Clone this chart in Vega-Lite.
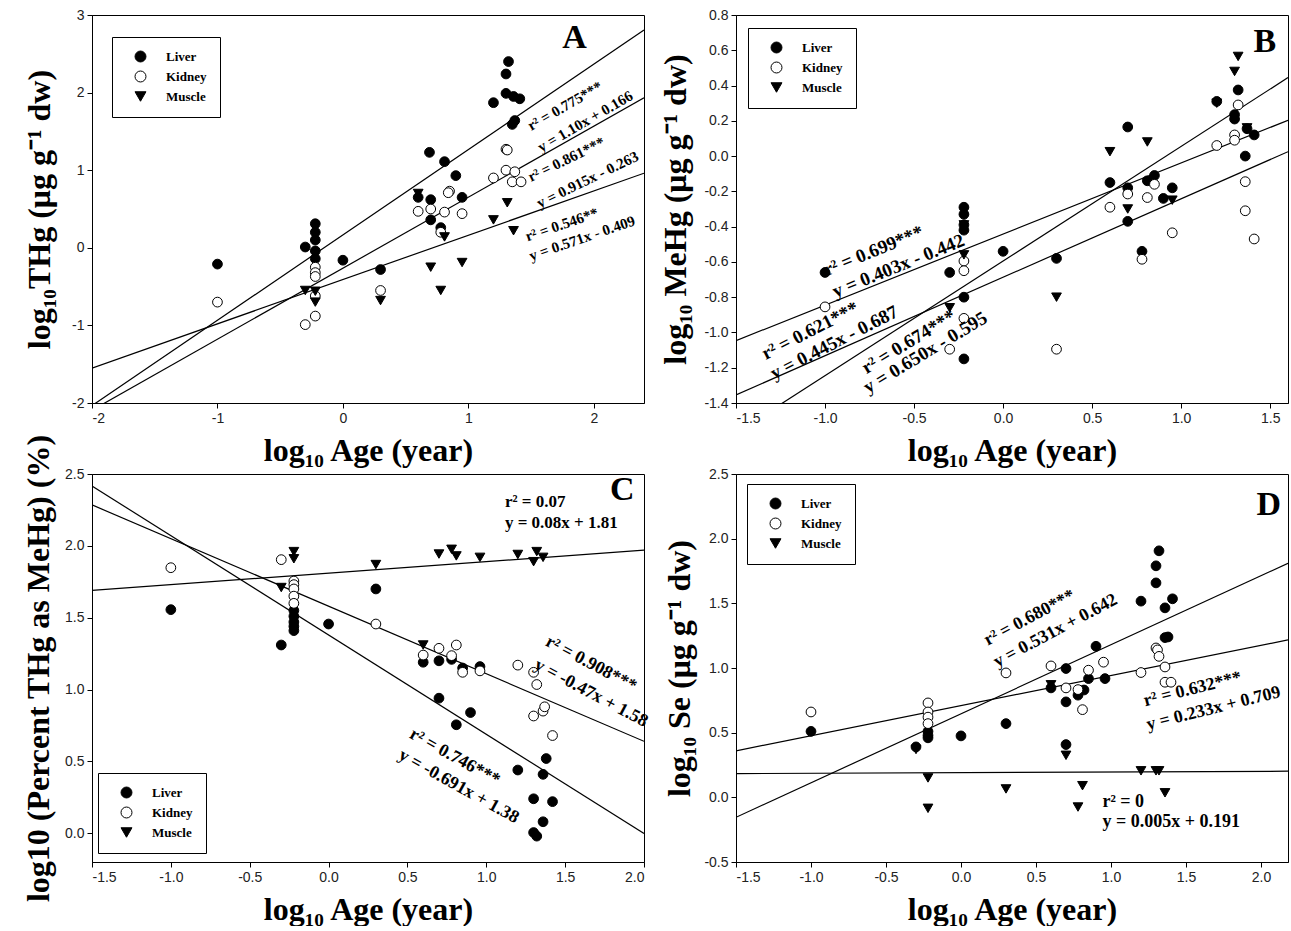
{
  "$schema": "https://vega.github.io/schema/vega-lite/v6.json",
  "usermeta": {"embedOptions": {"actions": false}},
  "background": "white",
  "padding": {"left": 22, "top": 7, "right": 0, "bottom": 0},
  "columns": 2,
  "bounds": "flush",
  "spacing": {"row": 71, "column": 92},
  "config": {
    "font": "Liberation Serif",
    "view": {"stroke": "black", "strokeWidth": 1},
    "axis": {"grid": false, "domainColor": "black", "tickColor": "black", "tickSize": 5, "labelFont": "Liberation Sans", "labelFontSize": 14, "labelColor": "#222222", "labelPadding": 3, "titleFont": "Liberation Serif", "titleFontSize": 32, "titleFontWeight": "bold", "titleColor": "black"},
    "legend": {"fillColor": "white", "strokeColor": "black", "padding": 13, "symbolOffset": 9, "labelFont": "Liberation Serif", "labelFontWeight": "bold", "labelFontSize": 13, "labelColor": "black", "labelOffset": 19, "rowPadding": 5, "symbolSize": 120, "symbolStrokeColor": "black", "symbolStrokeWidth": 1}
  },
  "datasets": {
    "ptsA": [
      {"t":"Liver","x":-1.0,"y":-0.21},{"t":"Liver","x":-0.30,"y":0.01},{"t":"Liver","x":-0.22,"y":0.31},{"t":"Liver","x":-0.22,"y":0.20},{"t":"Liver","x":-0.22,"y":0.10},{"t":"Liver","x":-0.22,"y":-0.04},{"t":"Liver","x":-0.22,"y":-0.14},{"t":"Liver","x":0.0,"y":-0.16},{"t":"Liver","x":0.30,"y":-0.28},{"t":"Liver","x":0.60,"y":0.65},{"t":"Liver","x":0.69,"y":1.23},{"t":"Liver","x":0.70,"y":0.62},{"t":"Liver","x":0.70,"y":0.36},{"t":"Liver","x":0.78,"y":0.26},{"t":"Liver","x":0.81,"y":1.11},{"t":"Liver","x":0.90,"y":0.93},{"t":"Liver","x":0.95,"y":0.65},{"t":"Liver","x":1.20,"y":1.87},{"t":"Liver","x":1.30,"y":2.24},{"t":"Liver","x":1.32,"y":2.40},{"t":"Liver","x":1.30,"y":1.99},{"t":"Liver","x":1.36,"y":1.95},{"t":"Liver","x":1.41,"y":1.92},{"t":"Liver","x":1.37,"y":1.64},{"t":"Liver","x":1.35,"y":1.59},
      {"t":"Kidney","x":-1.0,"y":-0.70},{"t":"Kidney","x":-0.30,"y":-0.99},{"t":"Kidney","x":-0.22,"y":-0.88},{"t":"Kidney","x":-0.22,"y":-0.25},{"t":"Kidney","x":-0.22,"y":-0.32},{"t":"Kidney","x":-0.22,"y":-0.37},{"t":"Kidney","x":-0.22,"y":-0.62},{"t":"Kidney","x":0.30,"y":-0.55},{"t":"Kidney","x":0.60,"y":0.47},{"t":"Kidney","x":0.70,"y":0.50},{"t":"Kidney","x":0.78,"y":0.20},{"t":"Kidney","x":0.81,"y":0.46},{"t":"Kidney","x":0.85,"y":0.73},{"t":"Kidney","x":0.84,"y":0.71},{"t":"Kidney","x":0.95,"y":0.44},{"t":"Kidney","x":1.20,"y":0.90},{"t":"Kidney","x":1.30,"y":1.27},{"t":"Kidney","x":1.31,"y":1.26},{"t":"Kidney","x":1.30,"y":1.00},{"t":"Kidney","x":1.37,"y":0.98},{"t":"Kidney","x":1.35,"y":0.85},{"t":"Kidney","x":1.42,"y":0.85},
      {"t":"Muscle","x":-0.30,"y":-0.55},{"t":"Muscle","x":-0.22,"y":-0.56},{"t":"Muscle","x":-0.22,"y":-0.70},{"t":"Muscle","x":0.30,"y":-0.68},{"t":"Muscle","x":0.60,"y":0.70},{"t":"Muscle","x":0.70,"y":-0.25},{"t":"Muscle","x":0.78,"y":-0.55},{"t":"Muscle","x":0.81,"y":0.14},{"t":"Muscle","x":0.95,"y":-0.19},{"t":"Muscle","x":1.20,"y":0.36},{"t":"Muscle","x":1.31,"y":0.58},{"t":"Muscle","x":1.36,"y":0.22}
    ],
    "ptsB": [
      {"t":"Liver","x":-1.0,"y":-0.66},{"t":"Liver","x":-0.30,"y":-0.66},{"t":"Liver","x":-0.22,"y":-0.29},{"t":"Liver","x":-0.22,"y":-0.33},{"t":"Liver","x":-0.22,"y":-0.39},{"t":"Liver","x":-0.22,"y":-0.42},{"t":"Liver","x":-0.22,"y":-0.80},{"t":"Liver","x":-0.22,"y":-1.15},{"t":"Liver","x":0.0,"y":-0.54},{"t":"Liver","x":0.30,"y":-0.58},{"t":"Liver","x":0.60,"y":-0.15},{"t":"Liver","x":0.70,"y":0.165},{"t":"Liver","x":0.70,"y":-0.18},{"t":"Liver","x":0.70,"y":-0.37},{"t":"Liver","x":0.78,"y":-0.54},{"t":"Liver","x":0.81,"y":-0.14},{"t":"Liver","x":0.85,"y":-0.11},{"t":"Liver","x":0.90,"y":-0.24},{"t":"Liver","x":0.95,"y":-0.18},{"t":"Liver","x":1.20,"y":0.31},{"t":"Liver","x":1.30,"y":0.21},{"t":"Liver","x":1.30,"y":0.235},{"t":"Liver","x":1.32,"y":0.375},{"t":"Liver","x":1.36,"y":0.0},{"t":"Liver","x":1.37,"y":0.155},{"t":"Liver","x":1.41,"y":0.12},
      {"t":"Kidney","x":-1.0,"y":-0.855},{"t":"Kidney","x":-0.30,"y":-1.095},{"t":"Kidney","x":-0.22,"y":-0.595},{"t":"Kidney","x":-0.22,"y":-0.65},{"t":"Kidney","x":-0.22,"y":-0.92},{"t":"Kidney","x":0.30,"y":-1.095},{"t":"Kidney","x":0.60,"y":-0.29},{"t":"Kidney","x":0.70,"y":-0.215},{"t":"Kidney","x":0.78,"y":-0.585},{"t":"Kidney","x":0.81,"y":-0.235},{"t":"Kidney","x":0.85,"y":-0.16},{"t":"Kidney","x":0.95,"y":-0.435},{"t":"Kidney","x":1.20,"y":0.06},{"t":"Kidney","x":1.30,"y":0.12},{"t":"Kidney","x":1.30,"y":0.09},{"t":"Kidney","x":1.32,"y":0.29},{"t":"Kidney","x":1.36,"y":-0.145},{"t":"Kidney","x":1.36,"y":-0.31},{"t":"Kidney","x":1.41,"y":-0.47},
      {"t":"Muscle","x":-0.30,"y":-0.86},{"t":"Muscle","x":-0.22,"y":-0.39},{"t":"Muscle","x":-0.22,"y":-0.56},{"t":"Muscle","x":0.30,"y":-0.80},{"t":"Muscle","x":0.60,"y":0.025},{"t":"Muscle","x":0.70,"y":-0.30},{"t":"Muscle","x":0.81,"y":0.08},{"t":"Muscle","x":0.95,"y":-0.25},{"t":"Muscle","x":1.20,"y":0.30},{"t":"Muscle","x":1.30,"y":0.48},{"t":"Muscle","x":1.32,"y":0.565},{"t":"Muscle","x":1.37,"y":0.16}
    ],
    "ptsC": [
      {"t":"Liver","x":-1.0,"y":1.556},{"t":"Liver","x":-0.30,"y":1.31},{"t":"Liver","x":-0.22,"y":1.55},{"t":"Liver","x":-0.22,"y":1.51},{"t":"Liver","x":-0.22,"y":1.47},{"t":"Liver","x":-0.22,"y":1.44},{"t":"Liver","x":-0.22,"y":1.41},{"t":"Liver","x":0.0,"y":1.456},{"t":"Liver","x":0.30,"y":1.70},{"t":"Liver","x":0.60,"y":1.19},{"t":"Liver","x":0.70,"y":1.20},{"t":"Liver","x":0.70,"y":0.94},{"t":"Liver","x":0.78,"y":1.21},{"t":"Liver","x":0.81,"y":0.755},{"t":"Liver","x":0.85,"y":1.15},{"t":"Liver","x":0.90,"y":0.84},{"t":"Liver","x":0.96,"y":1.16},{"t":"Liver","x":1.20,"y":0.44},{"t":"Liver","x":1.30,"y":0.24},{"t":"Liver","x":1.30,"y":0.005},{"t":"Liver","x":1.32,"y":-0.02},{"t":"Liver","x":1.36,"y":0.41},{"t":"Liver","x":1.36,"y":0.08},{"t":"Liver","x":1.38,"y":0.52},{"t":"Liver","x":1.42,"y":0.22},
      {"t":"Kidney","x":-1.0,"y":1.848},{"t":"Kidney","x":-0.30,"y":1.904},{"t":"Kidney","x":-0.22,"y":1.755},{"t":"Kidney","x":-0.22,"y":1.73},{"t":"Kidney","x":-0.22,"y":1.70},{"t":"Kidney","x":-0.22,"y":1.65},{"t":"Kidney","x":-0.22,"y":1.60},{"t":"Kidney","x":0.30,"y":1.456},{"t":"Kidney","x":0.60,"y":1.24},{"t":"Kidney","x":0.70,"y":1.287},{"t":"Kidney","x":0.78,"y":1.236},{"t":"Kidney","x":0.81,"y":1.31},{"t":"Kidney","x":0.85,"y":1.12},{"t":"Kidney","x":0.96,"y":1.13},{"t":"Kidney","x":1.20,"y":1.17},{"t":"Kidney","x":1.30,"y":1.12},{"t":"Kidney","x":1.30,"y":0.816},{"t":"Kidney","x":1.32,"y":1.035},{"t":"Kidney","x":1.36,"y":0.85},{"t":"Kidney","x":1.37,"y":0.88},{"t":"Kidney","x":1.42,"y":0.68},
      {"t":"Muscle","x":-0.30,"y":1.71},{"t":"Muscle","x":-0.22,"y":1.96},{"t":"Muscle","x":-0.22,"y":1.91},{"t":"Muscle","x":0.30,"y":1.87},{"t":"Muscle","x":0.60,"y":1.31},{"t":"Muscle","x":0.70,"y":1.943},{"t":"Muscle","x":0.78,"y":1.976},{"t":"Muscle","x":0.81,"y":1.93},{"t":"Muscle","x":0.96,"y":1.92},{"t":"Muscle","x":1.20,"y":1.94},{"t":"Muscle","x":1.30,"y":1.89},{"t":"Muscle","x":1.32,"y":1.96},{"t":"Muscle","x":1.36,"y":1.92}
    ],
    "ptsD": [
      {"t":"Liver","x":-1.0,"y":0.51},{"t":"Liver","x":-0.30,"y":0.39},{"t":"Liver","x":-0.22,"y":0.51},{"t":"Liver","x":-0.22,"y":0.48},{"t":"Liver","x":-0.22,"y":0.46},{"t":"Liver","x":0.0,"y":0.475},{"t":"Liver","x":0.30,"y":0.57},{"t":"Liver","x":0.60,"y":0.846},{"t":"Liver","x":0.70,"y":0.996},{"t":"Liver","x":0.70,"y":0.738},{"t":"Liver","x":0.70,"y":0.408},{"t":"Liver","x":0.78,"y":0.79},{"t":"Liver","x":0.82,"y":0.83},{"t":"Liver","x":0.85,"y":0.918},{"t":"Liver","x":0.90,"y":1.168},{"t":"Liver","x":0.96,"y":0.918},{"t":"Liver","x":1.20,"y":1.517},{"t":"Liver","x":1.30,"y":1.79},{"t":"Liver","x":1.30,"y":1.658},{"t":"Liver","x":1.32,"y":1.906},{"t":"Liver","x":1.36,"y":1.465},{"t":"Liver","x":1.36,"y":1.235},{"t":"Liver","x":1.38,"y":1.24},{"t":"Liver","x":1.41,"y":1.535},
      {"t":"Kidney","x":-1.0,"y":0.66},{"t":"Kidney","x":-0.22,"y":0.73},{"t":"Kidney","x":-0.22,"y":0.66},{"t":"Kidney","x":-0.22,"y":0.62},{"t":"Kidney","x":-0.22,"y":0.57},{"t":"Kidney","x":0.30,"y":0.962},{"t":"Kidney","x":0.60,"y":1.016},{"t":"Kidney","x":0.70,"y":0.846},{"t":"Kidney","x":0.78,"y":0.833},{"t":"Kidney","x":0.81,"y":0.678},{"t":"Kidney","x":0.85,"y":0.983},{"t":"Kidney","x":0.95,"y":1.045},{"t":"Kidney","x":1.20,"y":0.965},{"t":"Kidney","x":1.30,"y":1.155},{"t":"Kidney","x":1.31,"y":1.14},{"t":"Kidney","x":1.32,"y":1.09},{"t":"Kidney","x":1.36,"y":1.008},{"t":"Kidney","x":1.36,"y":0.89},{"t":"Kidney","x":1.40,"y":0.89},
      {"t":"Muscle","x":-0.30,"y":0.37},{"t":"Muscle","x":-0.22,"y":0.15},{"t":"Muscle","x":-0.22,"y":-0.085},{"t":"Muscle","x":0.30,"y":0.065},{"t":"Muscle","x":0.60,"y":0.87},{"t":"Muscle","x":0.70,"y":0.325},{"t":"Muscle","x":0.78,"y":-0.075},{"t":"Muscle","x":0.81,"y":0.09},{"t":"Muscle","x":1.20,"y":0.205},{"t":"Muscle","x":1.30,"y":0.205},{"t":"Muscle","x":1.32,"y":0.205},{"t":"Muscle","x":1.36,"y":0.035}
    ],
    "linesA": [
      {"line":"liver","x":-2.0,"y":-2.034},{"line":"liver","x":2.4,"y":2.806},
      {"line":"kidney","x":-2.0,"y":-2.093},{"line":"kidney","x":2.4,"y":1.933},
      {"line":"muscle","x":-2.0,"y":-1.551},{"line":"muscle","x":2.4,"y":0.961}
    ],
    "linesB": [
      {"line":"l1","x":-1.5,"y":-1.0465},{"line":"l1","x":1.6,"y":0.2028},
      {"line":"l2","x":-1.5,"y":-1.3545},{"line":"l2","x":1.6,"y":0.025},
      {"line":"l3","x":-1.5,"y":-1.57},{"line":"l3","x":1.6,"y":0.445}
    ],
    "linesC": [
      {"line":"muscle","x":-1.5,"y":1.69},{"line":"muscle","x":2.0,"y":1.97},
      {"line":"kidney","x":-1.5,"y":2.285},{"line":"kidney","x":2.0,"y":0.64},
      {"line":"liver","x":-1.5,"y":2.4165},{"line":"liver","x":2.0,"y":-0.002}
    ],
    "linesD": [
      {"line":"liver","x":-1.5,"y":-0.1545},{"line":"liver","x":2.18,"y":1.8096},
      {"line":"kidney","x":-1.5,"y":0.3595},{"line":"kidney","x":2.18,"y":1.2169},
      {"line":"muscle","x":-1.5,"y":0.1835},{"line":"muscle","x":2.18,"y":0.2019}
    ],
    "annA1": [{"x":1.77,"y":1.83,"label":"r² = 0.775***"},{"x":1.93,"y":1.63,"label":"y = 1.10x + 0.166"}],
    "annA2": [{"x":1.78,"y":1.14,"label":"r² = 0.861***"},{"x":1.95,"y":0.88,"label":"y = 0.915x - 0.263"}],
    "annA3": [{"x":1.745,"y":0.30,"label":"r² = 0.546**"},{"x":1.906,"y":0.125,"label":"y = 0.571x - 0.409"}],
    "letA": [{"x":1.846,"y":2.708,"label":"A"}],
    "annB1": [{"x":-0.728,"y":-0.537,"label":"r² = 0.699***"},{"x":-0.588,"y":-0.622,"label":"y = 0.403x - 0.442"}],
    "annB2": [{"x":-1.084,"y":-0.99,"label":"r² = 0.621***"},{"x":-0.949,"y":-1.057,"label":"y = 0.445x - 0.687"}],
    "annB3": [{"x":-0.53,"y":-1.053,"label":"r² = 0.674***"},{"x":-0.437,"y":-1.113,"label":"y = 0.650x - 0.595"}],
    "letB": [{"x":1.47,"y":0.645,"label":"B"}],
    "annC0": [{"x":1.118,"y":2.307,"label":"r² = 0.07"},{"x":1.118,"y":2.157,"label":"y = 0.08x + 1.81"}],
    "annC1": [{"x":1.664,"y":1.178,"label":"r² = 0.908***"},{"x":1.664,"y":0.974,"label":"y = -0.47x + 1.58"}],
    "annC2": [{"x":0.80,"y":0.529,"label":"r² = 0.746***"},{"x":0.825,"y":0.325,"label":"y = -0.691x + 1.38"}],
    "letC": [{"x":1.863,"y":2.389,"label":"C"}],
    "annD1": [{"x":0.458,"y":1.388,"label":"r² = 0.680***"},{"x":0.63,"y":1.287,"label":"y = 0.531x + 0.642"}],
    "annD2": [{"x":1.545,"y":0.836,"label":"r² = 0.632***"},{"x":1.683,"y":0.686,"label":"y = 0.233x + 0.709"}],
    "annD0": [{"x":0.943,"y":-0.036,"label":"r² = 0"},{"x":0.943,"y":-0.19,"label":"y = 0.005x + 0.191"}],
    "letD": [{"x":2.052,"y":2.26,"label":"D"}]
  },
  "resolve": {"scale": {"shape": "independent", "fill": "independent", "stroke": "independent"}, "legend": {"shape": "independent", "fill": "independent", "stroke": "independent"}},
  "concat": [
    {
      "width": 552, "height": 388,
      "encoding": {
        "x": {"field": "x", "type": "quantitative", "scale": {"domain": [-2, 2.4], "nice": false, "zero": false}, "axis": {"values": [-2, -1, 0, 1, 2], "format": "d", "labelExpr": "replace(datum.label, '−', '-')", "title": "log₁₀ Age (year)", "titlePadding": 10}},
        "y": {"field": "y", "type": "quantitative", "scale": {"domain": [-2, 3], "nice": false, "zero": false}, "axis": {"values": [-2, -1, 0, 1, 2, 3], "format": "d", "labelExpr": "replace(datum.label, '−', '-')", "title": "log₁₀THg (μg g⁻¹ dw)", "titlePadding": 15}}
      },
      "layer": [
        {"data": {"name": "linesA"}, "mark": {"type": "line", "clip": true, "color": "black", "strokeWidth": 1.2}, "encoding": {"detail": {"field": "line"}}},
        {"data": {"name": "ptsA"}, "mark": {"type": "point", "filled": true, "strokeWidth": 1, "size": 95, "opacity": 1},
         "encoding": {
           "shape": {"field": "t", "type": "nominal", "sort": null, "scale": {"domain": ["Liver", "Kidney", "Muscle"], "range": ["circle", "circle", "triangle-down"]}, "legend": {"title": null, "orient": "none", "legendX": 20, "legendY": 22}},
           "fill": {"field": "t", "type": "nominal", "sort": null, "scale": {"domain": ["Liver", "Kidney", "Muscle"], "range": ["black", "white", "black"]}, "legend": {"title": null, "orient": "none", "legendX": 20, "legendY": 22}},
           "stroke": {"field": "t", "type": "nominal", "sort": null, "scale": {"domain": ["Liver", "Kidney", "Muscle"], "range": ["black", "black", "black"]}, "legend": {"title": null, "orient": "none", "legendX": 20, "legendY": 22}}
         }},
        {"data": {"name": "annA1"}, "mark": {"type": "text", "angle": -30, "font": "Liberation Serif", "fontWeight": "bold", "fontSize": 15}, "encoding": {"text": {"field": "label"}}},
        {"data": {"name": "annA2"}, "mark": {"type": "text", "angle": -26, "font": "Liberation Serif", "fontWeight": "bold", "fontSize": 15}, "encoding": {"text": {"field": "label"}}},
        {"data": {"name": "annA3"}, "mark": {"type": "text", "angle": -19, "font": "Liberation Serif", "fontWeight": "bold", "fontSize": 15}, "encoding": {"text": {"field": "label"}}},
        {"data": {"name": "letA"}, "mark": {"type": "text", "font": "Liberation Serif", "fontWeight": "bold", "fontSize": 34}, "encoding": {"text": {"field": "label"}}}
      ]
    },
    {
      "width": 552, "height": 388,
      "encoding": {
        "x": {"field": "x", "type": "quantitative", "scale": {"domain": [-1.5, 1.6], "nice": false, "zero": false}, "axis": {"values": [-1.5, -1.0, -0.5, 0.0, 0.5, 1.0, 1.5], "format": ".1f", "labelExpr": "replace(datum.label, '−', '-')", "title": "log₁₀ Age (year)", "titlePadding": 10}},
        "y": {"field": "y", "type": "quantitative", "scale": {"domain": [-1.4, 0.8], "nice": false, "zero": false}, "axis": {"values": [-1.4, -1.2, -1.0, -0.8, -0.6, -0.4, -0.2, 0.0, 0.2, 0.4, 0.6, 0.8], "format": ".1f", "labelExpr": "replace(datum.label, '−', '-')", "title": "log₁₀ MeHg (μg g⁻¹ dw)", "titlePadding": 11}}
      },
      "layer": [
        {"data": {"name": "linesB"}, "mark": {"type": "line", "clip": true, "color": "black", "strokeWidth": 1.2}, "encoding": {"detail": {"field": "line"}}},
        {"data": {"name": "ptsB"}, "mark": {"type": "point", "filled": true, "strokeWidth": 1, "size": 95, "opacity": 1},
         "encoding": {
           "shape": {"field": "t", "type": "nominal", "sort": null, "scale": {"domain": ["Liver", "Kidney", "Muscle"], "range": ["circle", "circle", "triangle-down"]}, "legend": {"title": null, "orient": "none", "legendX": 12, "legendY": 13}},
           "fill": {"field": "t", "type": "nominal", "sort": null, "scale": {"domain": ["Liver", "Kidney", "Muscle"], "range": ["black", "white", "black"]}, "legend": {"title": null, "orient": "none", "legendX": 12, "legendY": 13}},
           "stroke": {"field": "t", "type": "nominal", "sort": null, "scale": {"domain": ["Liver", "Kidney", "Muscle"], "range": ["black", "black", "black"]}, "legend": {"title": null, "orient": "none", "legendX": 12, "legendY": 13}}
         }},
        {"data": {"name": "annB1"}, "mark": {"type": "text", "angle": -22, "font": "Liberation Serif", "fontWeight": "bold", "fontSize": 19}, "encoding": {"text": {"field": "label"}}},
        {"data": {"name": "annB2"}, "mark": {"type": "text", "angle": -27, "font": "Liberation Serif", "fontWeight": "bold", "fontSize": 19}, "encoding": {"text": {"field": "label"}}},
        {"data": {"name": "annB3"}, "mark": {"type": "text", "angle": -31, "font": "Liberation Serif", "fontWeight": "bold", "fontSize": 19}, "encoding": {"text": {"field": "label"}}},
        {"data": {"name": "letB"}, "mark": {"type": "text", "font": "Liberation Serif", "fontWeight": "bold", "fontSize": 34}, "encoding": {"text": {"field": "label"}}}
      ]
    },
    {
      "width": 552, "height": 388,
      "encoding": {
        "x": {"field": "x", "type": "quantitative", "scale": {"domain": [-1.5, 2.0], "nice": false, "zero": false}, "axis": {"values": [-1.5, -1.0, -0.5, 0.0, 0.5, 1.0, 1.5, 2.0], "format": ".1f", "labelExpr": "replace(datum.label, '−', '-')", "title": "log₁₀ Age (year)", "titlePadding": 10}},
        "y": {"field": "y", "type": "quantitative", "scale": {"domain": [-0.2, 2.5], "nice": false, "zero": false}, "axis": {"values": [0.0, 0.5, 1.0, 1.5, 2.0, 2.5], "format": ".1f", "labelExpr": "replace(datum.label, '−', '-')", "title": "log10 (Percent THg as MeHg) (%)", "titlePadding": 9}}
      },
      "layer": [
        {"data": {"name": "linesC"}, "mark": {"type": "line", "clip": true, "color": "black", "strokeWidth": 1.2}, "encoding": {"detail": {"field": "line"}}},
        {"data": {"name": "ptsC"}, "mark": {"type": "point", "filled": true, "strokeWidth": 1, "size": 95, "opacity": 1},
         "encoding": {
           "shape": {"field": "t", "type": "nominal", "sort": null, "scale": {"domain": ["Liver", "Kidney", "Muscle"], "range": ["circle", "circle", "triangle-down"]}, "legend": {"title": null, "orient": "none", "legendX": 6, "legendY": 299}},
           "fill": {"field": "t", "type": "nominal", "sort": null, "scale": {"domain": ["Liver", "Kidney", "Muscle"], "range": ["black", "white", "black"]}, "legend": {"title": null, "orient": "none", "legendX": 6, "legendY": 299}},
           "stroke": {"field": "t", "type": "nominal", "sort": null, "scale": {"domain": ["Liver", "Kidney", "Muscle"], "range": ["black", "black", "black"]}, "legend": {"title": null, "orient": "none", "legendX": 6, "legendY": 299}}
         }},
        {"data": {"name": "annC0"}, "mark": {"type": "text", "align": "left", "font": "Liberation Serif", "fontWeight": "bold", "fontSize": 17}, "encoding": {"text": {"field": "label"}}},
        {"data": {"name": "annC1"}, "mark": {"type": "text", "angle": 28, "font": "Liberation Serif", "fontWeight": "bold", "fontSize": 18}, "encoding": {"text": {"field": "label"}}},
        {"data": {"name": "annC2"}, "mark": {"type": "text", "angle": 29, "font": "Liberation Serif", "fontWeight": "bold", "fontSize": 18}, "encoding": {"text": {"field": "label"}}},
        {"data": {"name": "letC"}, "mark": {"type": "text", "font": "Liberation Serif", "fontWeight": "bold", "fontSize": 34}, "encoding": {"text": {"field": "label"}}}
      ]
    },
    {
      "width": 552, "height": 388,
      "encoding": {
        "x": {"field": "x", "type": "quantitative", "scale": {"domain": [-1.5, 2.18], "nice": false, "zero": false}, "axis": {"values": [-1.5, -1.0, -0.5, 0.0, 0.5, 1.0, 1.5, 2.0], "format": ".1f", "labelExpr": "replace(datum.label, '−', '-')", "title": "log₁₀ Age (year)", "titlePadding": 10}},
        "y": {"field": "y", "type": "quantitative", "scale": {"domain": [-0.5, 2.5], "nice": false, "zero": false}, "axis": {"values": [-0.5, 0.0, 0.5, 1.0, 1.5, 2.0, 2.5], "format": ".1f", "labelExpr": "replace(datum.label, '−', '-')", "title": "log₁₀ Se (μg g⁻¹ dw)", "titlePadding": 7}}
      },
      "layer": [
        {"data": {"name": "linesD"}, "mark": {"type": "line", "clip": true, "color": "black", "strokeWidth": 1.2}, "encoding": {"detail": {"field": "line"}}},
        {"data": {"name": "ptsD"}, "mark": {"type": "point", "filled": true, "strokeWidth": 1, "size": 95, "opacity": 1},
         "encoding": {
           "shape": {"field": "t", "type": "nominal", "sort": null, "scale": {"domain": ["Liver", "Kidney", "Muscle"], "range": ["circle", "circle", "triangle-down"]}, "legend": {"title": null, "orient": "none", "legendX": 11, "legendY": 10}},
           "fill": {"field": "t", "type": "nominal", "sort": null, "scale": {"domain": ["Liver", "Kidney", "Muscle"], "range": ["black", "white", "black"]}, "legend": {"title": null, "orient": "none", "legendX": 11, "legendY": 10}},
           "stroke": {"field": "t", "type": "nominal", "sort": null, "scale": {"domain": ["Liver", "Kidney", "Muscle"], "range": ["black", "black", "black"]}, "legend": {"title": null, "orient": "none", "legendX": 11, "legendY": 10}}
         }},
        {"data": {"name": "annD1"}, "mark": {"type": "text", "angle": -28, "font": "Liberation Serif", "fontWeight": "bold", "fontSize": 18}, "encoding": {"text": {"field": "label"}}},
        {"data": {"name": "annD2"}, "mark": {"type": "text", "angle": -14, "font": "Liberation Serif", "fontWeight": "bold", "fontSize": 18}, "encoding": {"text": {"field": "label"}}},
        {"data": {"name": "annD0"}, "mark": {"type": "text", "align": "left", "font": "Liberation Serif", "fontWeight": "bold", "fontSize": 18}, "encoding": {"text": {"field": "label"}}},
        {"data": {"name": "letD"}, "mark": {"type": "text", "font": "Liberation Serif", "fontWeight": "bold", "fontSize": 34}, "encoding": {"text": {"field": "label"}}}
      ]
    }
  ]
}
